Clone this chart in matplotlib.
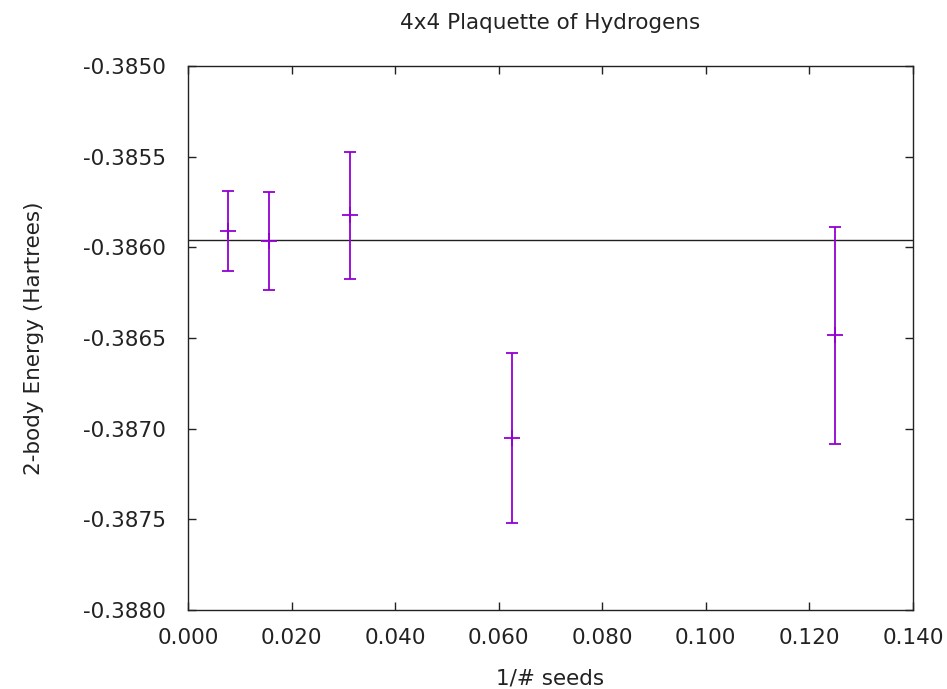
import numpy as np
import matplotlib
matplotlib.use("Agg")
import matplotlib.pyplot as plt

# inverse number of seeds and the 2-body energies with their error estimates
inv_seeds = [1/128, 1/64, 1/32, 1/16, 1/8]
energy = [-0.385911, -0.385966, -0.385822, -0.387051, -0.386485]
energy_err = [0.00022, 0.00027, 0.00035, 0.00047, 0.00060]
reference_energy = -0.38596

xticks = [0.000, 0.020, 0.040, 0.060, 0.080, 0.100, 0.120, 0.140]
yticks = [-0.3880, -0.3875, -0.3870, -0.3865, -0.3860, -0.3855, -0.3850]

plt.rcParams['font.family'] = ['DejaVu Sans']
fig = plt.figure(figsize=(9.47, 6.89), dpi=100)
ax = fig.add_axes([0.1985, 0.1147, 0.7655, 0.7893])

ax.axhline(reference_energy, color='#202020', lw=1.0, zorder=1)
ax.errorbar(inv_seeds, energy, yerr=energy_err, fmt='+', color='#9400d3',
            ecolor='#9400d3', elinewidth=1.3, capsize=4, capthick=1.3,
            markersize=11, markeredgewidth=1.3, zorder=2)

ax.set_xlim(0.0, 0.14)
ax.set_ylim(-0.3880, -0.3850)
ax.set_xticks(xticks)
ax.set_xticklabels([f"{t:.3f}" for t in xticks])
ax.set_yticks(yticks)
ax.set_yticklabels([f"{t:.4f}" for t in yticks])
ax.tick_params(direction='in', length=6, width=1, labelsize=15.5,
               top=True, right=True, colors='#222222')
ax.tick_params(axis='y', pad=16)
ax.tick_params(axis='x', pad=13)
for s in ax.spines.values():
    s.set_linewidth(1.0)
    s.set_color('#222222')

ax.set_title("4x4 Plaquette of Hydrogens", fontsize=15.5, pad=27, color='#222222')
ax.set_xlabel("1/# seeds", fontsize=15.5, labelpad=15, color='#222222')
ax.set_ylabel("2-body Energy (Hartrees)", fontsize=15.5, labelpad=28, color='#222222')

fig.savefig("out.png", dpi=100)
